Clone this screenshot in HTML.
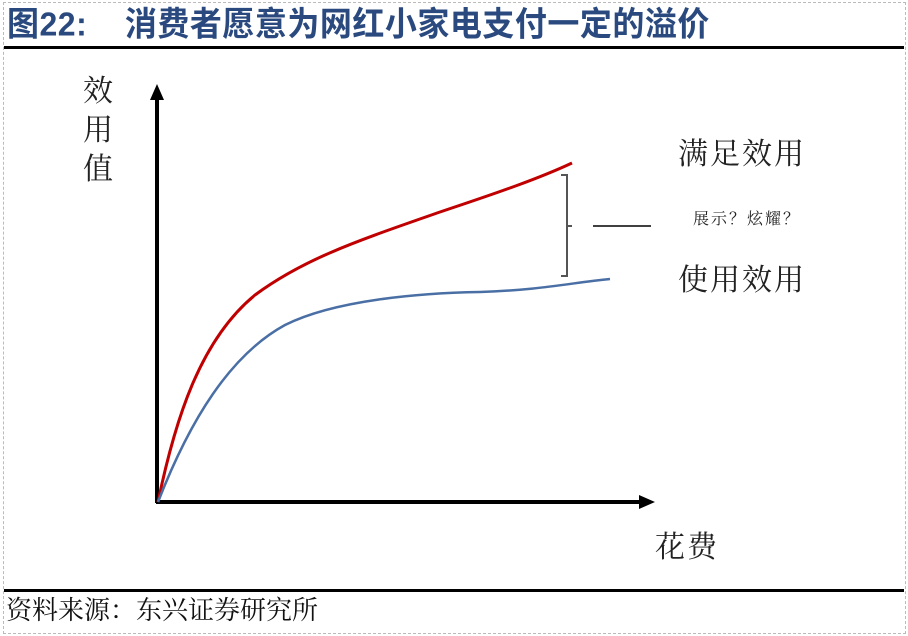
<!DOCTYPE html>
<html><head><meta charset="utf-8"><style>
html,body{margin:0;padding:0;background:#fff}
body{width:908px;height:636px;position:relative;overflow:hidden}
.t{position:absolute;white-space:nowrap}
.serif{font-family:"Liberation Serif","Noto Serif CJK SC",serif;color:#222}
</style></head><body>
<div style="position:absolute;left:3px;top:2px;width:901px;height:630px;border:1px dashed #bbb"></div>
<div class="t" style="left:7px;top:2px;font-family:'Liberation Sans','Noto Sans CJK SC',sans-serif;font-weight:bold;font-size:32px;color:#2a4a7f;line-height:42px;letter-spacing:0.5px;transform:scaleY(1.05);transform-origin:top left">图22:&nbsp;&nbsp;&nbsp;&nbsp;消费者愿意为网红小家电支付一定的溢价</div>
<div style="position:absolute;left:4px;top:46px;width:900px;height:3px;background:#000"></div>
<div style="position:absolute;left:4px;top:589px;width:900px;height:3px;background:#000"></div>
<div class="t serif" style="left:6px;top:595px;font-size:26px;line-height:32px;color:#111">资料来源：东兴证券研究所</div>

<svg style="position:absolute;left:0;top:0" width="908" height="636">
<line x1="157" y1="503" x2="157" y2="98" stroke="#000" stroke-width="4"/>
<polygon points="157,84 150,100 164,100" fill="#000"/>
<line x1="156" y1="502" x2="640" y2="502" stroke="#000" stroke-width="4"/>
<polygon points="655,502 639,495 639,509" fill="#000"/>
<path d="M158,502 C175,420 200,340 255,295 C305,258 360,240 440,212 C500,192 540,178 572,163" fill="none" stroke="#c00000" stroke-width="3"/>
<path d="M158,502 C190,420 230,355 285,325 C335,300 420,293 480,292 C540,290 570,283 610,279" fill="none" stroke="#4a6fa5" stroke-width="2.5"/>
<path d="M561,175 L567,175 L567,276 L561,276 M567,226 L572,226" fill="none" stroke="#555" stroke-width="2"/>
<line x1="593" y1="226" x2="651" y2="226" stroke="#000" stroke-width="1.5"/>
</svg>
<div class="t serif" style="left:83px;top:72px;font-size:30px;line-height:39px;width:34px;white-space:normal">效用值</div>
<div class="t serif" style="left:678px;top:136px;font-size:30px;line-height:38px;letter-spacing:2px">满足效用</div>
<div class="t serif" style="left:678px;top:262px;font-size:30px;line-height:38px;letter-spacing:2px">使用效用</div>
<div class="t serif" style="left:693px;top:210px;font-size:16px;line-height:20px;letter-spacing:2px">展示？炫耀？</div>
<div class="t serif" style="left:655px;top:530px;font-size:30px;line-height:36px;letter-spacing:2px">花费</div>
</body></html>
